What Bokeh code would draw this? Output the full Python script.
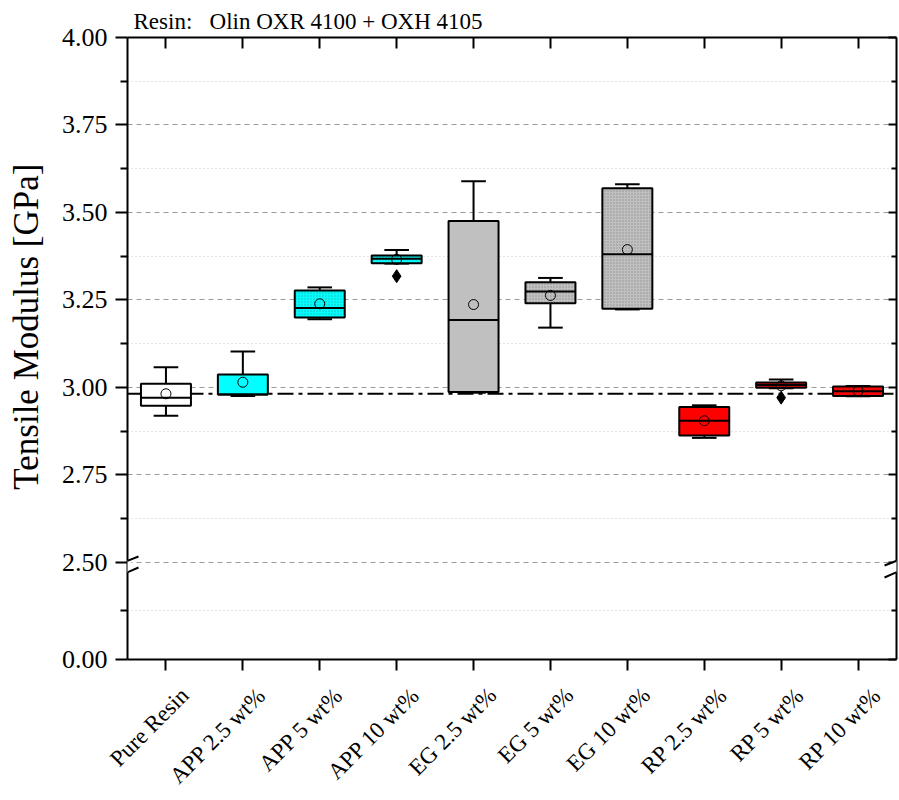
import math
from bokeh.plotting import figure
from bokeh.models import (ColumnDataSource, Range1d, FixedTicker, LinearAxis,
                          CustomJSTickFormatter, Arrow, PolyAnnotation)
from bokeh.embed import file_html
from bokeh.resources import INLINE

# ---------------- data ----------------
categories = ["Pure Resin", "APP 2.5 wt%", "APP 5 wt%", "APP 10 wt%", "EG 2.5 wt%",
              "EG 5 wt%", "EG 10 wt%", "RP 2.5 wt%", "RP 5 wt%", "RP 10 wt%"]
whisker_low = [2.919, 2.976, 3.195, 3.354, 2.985, 3.171, 3.223, 2.856, 2.998, 2.975]
q1 = [2.948, 2.980, 3.200, 3.355, 2.987, 3.241, 3.225, 2.863, 2.999, 2.976]
median = [2.971, 2.980, 3.227, 3.368, 3.193, 3.274, 3.381, 2.905, 3.007, 2.989]
q3 = [3.011, 3.037, 3.277, 3.377, 3.476, 3.301, 3.569, 2.944, 3.014, 3.003]
whisker_high = [3.058, 3.103, 3.286, 3.393, 3.589, 3.313, 3.581, 2.949, 3.023, 3.004]
mean = [2.982, 3.015, 3.239, 3.366, 3.237, 3.263, 3.394, 2.905, 3.005, 2.990]
outlier_group = ["APP 10 wt%", "RP 5 wt%"]
outlier_value = [3.318, 2.971]
fill_colors = ["#FFFFFF", "#00FFFF", "#00FFFF", "#00FFFF", "#C0C0C0",
               "#C0C0C0", "#C0C0C0", "#FF0000", "#FF0000", "#FF0000"]
patterned = [False, False, True, True, False, True, True, False, True, True]
reference_group = "Pure Resin"   # dash-dot reference line = its mean

y_major_values = [0.0, 2.5, 2.75, 3.0, 3.25, 3.5, 3.75, 4.0]
y_minor_values = [1.25, 2.625, 2.875, 3.125, 3.375, 3.625, 3.875]
title_text = "Resin:\u00a0\u00a0 Olin OXR 4100 + OXH 4105"
y_label = "Tensile Modulus [GPa]"

# ---------------- broken axis transform ----------------
BREAK = 2.5
K = 0.1109   # compression of the 0 - 2.5 segment


def fy(v):
    return v if v >= BREAK else BREAK - (BREAK - v) * K


FONT = "Liberation Serif"
n = len(categories)
xs = [i + 0.5 for i in range(n)]
BOX_W = 0.65
CAP_W = 0.32

src = ColumnDataSource(dict(
    x=xs, lo=whisker_low, q1=q1, med=median, q3=q3, hi=whisker_high, mean=mean,
    fill=fill_colors,
    hatch=["." if p else " " for p in patterned],
    cap_l=[x - CAP_W / 2 for x in xs], cap_r=[x + CAP_W / 2 for x in xs],
    box_l=[x - BOX_W / 2 for x in xs], box_r=[x + BOX_W / 2 for x in xs],
))

y_lo = fy(min(y_major_values))
y_hi = max(y_major_values)
FRAME_W, FRAME_H = 769.0, 622.0
px_x = n / FRAME_W
px_y = (y_hi - y_lo) / FRAME_H
LABEL_SHIFT = 19 * px_x   # rotated category labels sit right of their ticks

p = figure(width=899, height=800, output_backend="svg", toolbar_location=None,
           x_range=Range1d(0, n), y_range=Range1d(y_lo, y_hi),
           min_border_left=127, min_border_right=3, min_border_top=37,
           min_border_bottom=141, background_fill_color="white",
           border_fill_color="white", outline_line_color=None)
p.extra_x_ranges = {"labels": Range1d(-LABEL_SHIFT, n - LABEL_SHIFT)}

# title
p.title.text = title_text
p.title.text_font = FONT
p.title.text_font_size = "23px"
p.title.text_font_style = "normal"
p.title.text_color = "black"
p.title.align = "left"
p.title.offset = 6
p.title.standoff = 8

# tickers / formatters
y_ticker = FixedTicker(ticks=[fy(v) for v in y_major_values],
                       minor_ticks=[fy(v) for v in y_minor_values])
x_ticker = FixedTicker(ticks=xs, minor_ticks=[])
y_fmt = CustomJSTickFormatter(args=dict(b=BREAK, k=K), code="""
    var v = (tick < b - 1e-9) ? b - (b - tick) / k : tick;
    return v.toFixed(2);
""")
x_fmt = CustomJSTickFormatter(args=dict(labels=categories), code="""
    return labels[Math.round(tick - 0.5)];
""")
blank_fmt = CustomJSTickFormatter(code="return '';")

# left axis
ya = p.yaxis[0]
ya.ticker = y_ticker
ya.formatter = y_fmt
ya.axis_label = "\u00a0" * 5 + y_label
ya.axis_label_text_font = FONT
ya.axis_label_text_font_size = "35px"
ya.axis_label_text_font_style = "normal"
ya.axis_label_text_color = "black"
ya.axis_label_standoff = 13
ya.major_label_text_font = FONT
ya.major_label_text_font_size = "26px"
ya.major_label_text_color = "black"
ya.major_label_standoff = 8
ya.major_tick_out = 12
ya.major_tick_in = 0
ya.minor_tick_out = 7
ya.minor_tick_in = 0
ya.axis_line_width = 2
ya.major_tick_line_width = 2
ya.minor_tick_line_width = 2

# bottom axis: ticks only
xa = p.xaxis[0]
xa.ticker = x_ticker
xa.formatter = blank_fmt
xa.major_label_standoff = 0
xa.major_tick_out = 11
xa.major_tick_in = 0
xa.minor_tick_out = 0
xa.axis_line_width = 2
xa.major_tick_line_width = 2

# second bottom axis: rotated category labels, shifted right
lab_axis = LinearAxis(x_range_name="labels", ticker=x_ticker, formatter=x_fmt,
                      major_label_orientation=math.pi / 4,
                      major_label_text_font=FONT, major_label_text_font_size="23px",
                      major_label_text_color="black", major_label_standoff=21,
                      major_tick_out=0, major_tick_in=0, minor_tick_out=0,
                      minor_tick_in=0, axis_line_color=None)
p.add_layout(lab_axis, "below")

# top and right axes (ticks inward, no labels)
top = LinearAxis(ticker=x_ticker, formatter=blank_fmt, major_tick_in=11,
                 major_tick_out=0, minor_tick_in=0, minor_tick_out=0,
                 axis_line_width=2, major_tick_line_width=2, major_label_standoff=0)
right = LinearAxis(ticker=y_ticker, formatter=blank_fmt, major_tick_in=8,
                   major_tick_out=0, minor_tick_in=5, minor_tick_out=0,
                   axis_line_width=2, major_tick_line_width=2,
                   minor_tick_line_width=2, major_label_standoff=0)
p.add_layout(top, "above")
p.add_layout(right, "right")

# grids
p.xgrid.visible = False
p.ygrid.ticker = y_ticker
p.ygrid.grid_line_color = "#9A9A9A"
p.ygrid.grid_line_dash = "5 4"
p.ygrid.grid_line_width = 1
p.ygrid.minor_grid_line_color = "#C8C8C8"
p.ygrid.minor_grid_line_dash = "1 3"
p.ygrid.minor_grid_line_width = 1

# reference dash-dot line at pure resin mean
ref_y = mean[categories.index(reference_group)]
p.segment(x0=[0], x1=[n], y0=[ref_y], y1=[ref_y], line_color="black",
          line_width=2, line_dash="16 5 4 5")

# whiskers
p.segment(x0="x", x1="x", y0="q3", y1="hi", source=src, line_color="black", line_width=2)
p.segment(x0="x", x1="x", y0="q1", y1="lo", source=src, line_color="black", line_width=2)
p.segment(x0="cap_l", x1="cap_r", y0="hi", y1="hi", source=src, line_color="black", line_width=2)
p.segment(x0="cap_l", x1="cap_r", y0="lo", y1="lo", source=src, line_color="black", line_width=2)

# boxes
p.quad(left="box_l", right="box_r", bottom="q1", top="q3", source=src,
       fill_color="fill", line_color="black", line_width=2,
       hatch_pattern="hatch", hatch_color="#555555", hatch_alpha=0.45,
       hatch_scale=3, hatch_weight=1)
# medians
p.segment(x0="box_l", x1="box_r", y0="med", y1="med", source=src,
          line_color="black", line_width=2)
# means
p.scatter(x="x", y="mean", source=src, marker="circle", size=10,
          fill_color=None, line_color="black", line_width=1)
# outliers
ox = [xs[categories.index(g)] for g in outlier_group]
p.scatter(x=ox, y=outlier_value, marker="diamond", size=13,
          fill_color="black", line_color="black")

# axis break marks at 2.50 on left and right axes
for x0 in (0, n):
    gap_top = BREAK + 2 * px_y
    gap_bot = BREAK - 10 * px_y
    p.add_layout(PolyAnnotation(
        xs=[x0 - 4 * px_x, x0 + 4 * px_x, x0 + 4 * px_x, x0 - 4 * px_x],
        ys=[gap_bot, gap_bot, gap_top, gap_top],
        fill_color="white", fill_alpha=1, line_color=None, level="overlay"))
    for dy0, dy1 in ((-3, 6), (-15, -5)):
        p.add_layout(Arrow(end=None, x_start=x0 - 12 * px_x, y_start=BREAK + dy0 * px_y,
                           x_end=x0 + 11 * px_x, y_end=BREAK + dy1 * px_y,
                           line_color="black", line_width=2, level="overlay"))

open("out.html", "w").write(file_html(p, INLINE))
